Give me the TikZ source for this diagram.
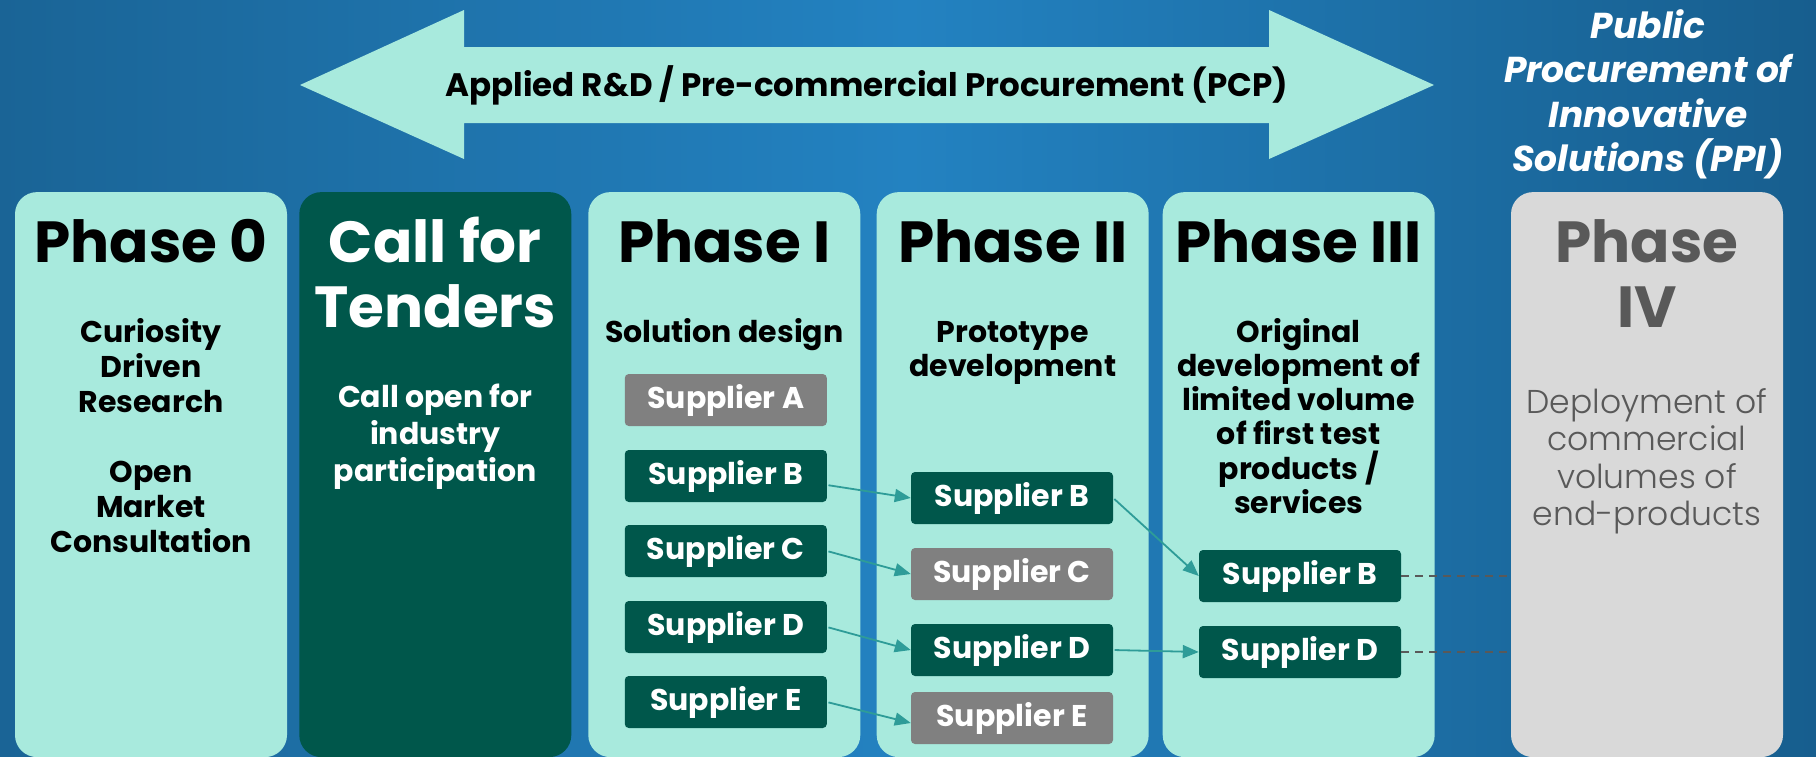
\documentclass[tikz,border=0pt]{standalone}
\usepackage{fontspec}
\setmainfont{Poppins}
\newfontfamily\lightfont{Poppins Light}
\usetikzlibrary{arrows.meta}
\definecolor{aqua}{HTML}{A8EADD}
\definecolor{deepgreen}{HTML}{00574B}
\definecolor{midgrey}{HTML}{808080}
\definecolor{palegrey}{HTML}{D9D9D9}
\definecolor{darkgrey}{HTML}{595959}
\definecolor{flowteal}{HTML}{2E9C98}
\definecolor{bgleft}{HTML}{1A6496}
\definecolor{bgmid}{HTML}{2382C1}
\definecolor{bgright}{HTML}{175E8E}

\begin{document}
\begin{tikzpicture}[x=1pt, y=-1pt,
    phasebox/.style={rounded corners=22pt, minimum width=272pt, minimum height=565pt, inner sep=0pt},
    title/.style={anchor=base, align=center, font=\fontsize{58}{65}\selectfont\bfseries},
    desc/.style={anchor=base, align=center, font=\fontsize{30}{35}\selectfont\bfseries},
    supplier/.style={minimum width=202pt, minimum height=52pt, inner sep=0pt, rounded corners=4pt,
        text=white, font=\fontsize{30}{34}\selectfont\bfseries},
    picked/.style={supplier, fill=deepgreen},
    dropped/.style={supplier, fill=midgrey},
    flow/.style={flowteal, line width=1.8pt, shorten <=1.5pt, -{Triangle[length=16pt,width=13pt]}},
    link/.style={darkgrey, line width=2pt, dash pattern=on 8pt off 6pt}]

    % Background
    \useasboundingbox (0,0) rectangle (1816,756);
    \shade[left color=bgleft, right color=bgright, middle color=bgmid] (0,0) rectangle (1816,756);

    % Big double arrow for the PCP
    \fill[aqua] (300,85) -- (464,10) -- (464,47) -- (1269,47) -- (1269,10) -- (1434,85)
        -- (1269,159) -- (1269,123) -- (464,123) -- (464,159) -- cycle;
    \node[anchor=base, font=\fontsize{32.5}{36}\selectfont\bfseries] (pcp) at (867,96)
        {Applied R\&D / Pre-commercial Procurement (PCP)};
    % base of a multi-line node = its last line
    \node[anchor=base, align=center, text=white, font=\fontsize{36}{44.5}\selectfont\bfseries\itshape] (ppi) at (1648,171.8)
        {Public\\Procurement of\\Innovative\\Solutions (PPI)};

    % Phase columns
    \node[phasebox, fill=aqua] (p0) at (151,474.6) {};
    \node[phasebox, fill=deepgreen] (cft) at (435.3,474.6) {};
    \node[phasebox, fill=aqua] (p1) at (724.3,474.6) {};
    \node[phasebox, fill=aqua] (p2) at (1012.7,474.6) {};
    \node[phasebox, fill=aqua] (p3) at (1298.7,474.6) {};
    \node[phasebox, fill=palegrey] (p4) at (1647,474.6) {};

    % Titles
    \node[title] (t0) at (151,262.7) {Phase 0};
    \node[title, text=white] (tcft) at (435.3,327.7) {Call for\\Tenders};
    \node[title] (t1) at (724.3,262.7) {Phase I};
    \node[title] (t2) at (1012.7,262.7) {Phase II};
    \node[title] (t3) at (1298.7,262.7) {Phase III};
    \node[title, text=darkgrey] (t4) at (1647,327.7) {Phase\\IV};

    % Descriptions
    \node[desc] (d0) at (151,552) {Curiosity\\Driven\\Research\\[35pt]Open\\Market\\Consultation};
    \node[desc, text=white, font=\fontsize{30}{37}\selectfont\bfseries] (dcft) at (435.3,481)
        {Call open for\\industry\\participation};
    \node[desc] (d1) at (724.3,342) {Solution design};
    \node[desc, font=\fontsize{30}{34.5}\selectfont\bfseries] (d2) at (1012.7,376.5) {Prototype\\development};
    \node[desc, font=\fontsize{30}{34.3}\selectfont\bfseries] (d3) at (1298.7,513.5)
        {Original\\development of\\limited volume\\of first test\\products /\\services};
    \node[desc, text=darkgrey, font=\fontsize{33}{37.5}\selectfont\lightfont] (d4) at (1647,525.5)
        {Deployment of\\commercial\\volumes of\\end-products};

    % Suppliers in each phase
    \node[dropped] (s1a) at (725.8,400) {Supplier A};
    \node[picked] (s1b) at (725.8,476) {Supplier B};
    \node[picked] (s1c) at (725.8,551) {Supplier C};
    \node[picked] (s1d) at (725.8,627) {Supplier D};
    \node[picked] (s1e) at (725.8,702) {Supplier E};

    \node[picked] (s2b) at (1012,498) {Supplier B};
    \node[dropped] (s2c) at (1012,574) {Supplier C};
    \node[picked] (s2d) at (1012,650) {Supplier D};
    \node[dropped] (s2e) at (1012,718) {Supplier E};

    \node[picked] (s3b) at (1300,576) {Supplier B};
    \node[picked] (s3d) at (1300,652) {Supplier D};

    % Suppliers moving on
    \draw[flow] ([yshift=-9pt]s1b.east) -- (s2b.west);
    \draw[flow] (s1c.east) -- (s2c.west);
    \draw[flow] (s1d.east) -- (s2d.west);
    \draw[flow] (s1e.east) -- ([yshift=-5pt]s2e.west);
    \draw[flow] (s2b.east) -- (s3b.west);
    \draw[flow] (s2d.east) -- (s3d.west);

    % Towards the PPI
    \draw[link] (s3b.east) -- (s3b.east -| p4.west);
    \draw[link] (s3d.east) -- (s3d.east -| p4.west);

\end{tikzpicture}
\end{document}
